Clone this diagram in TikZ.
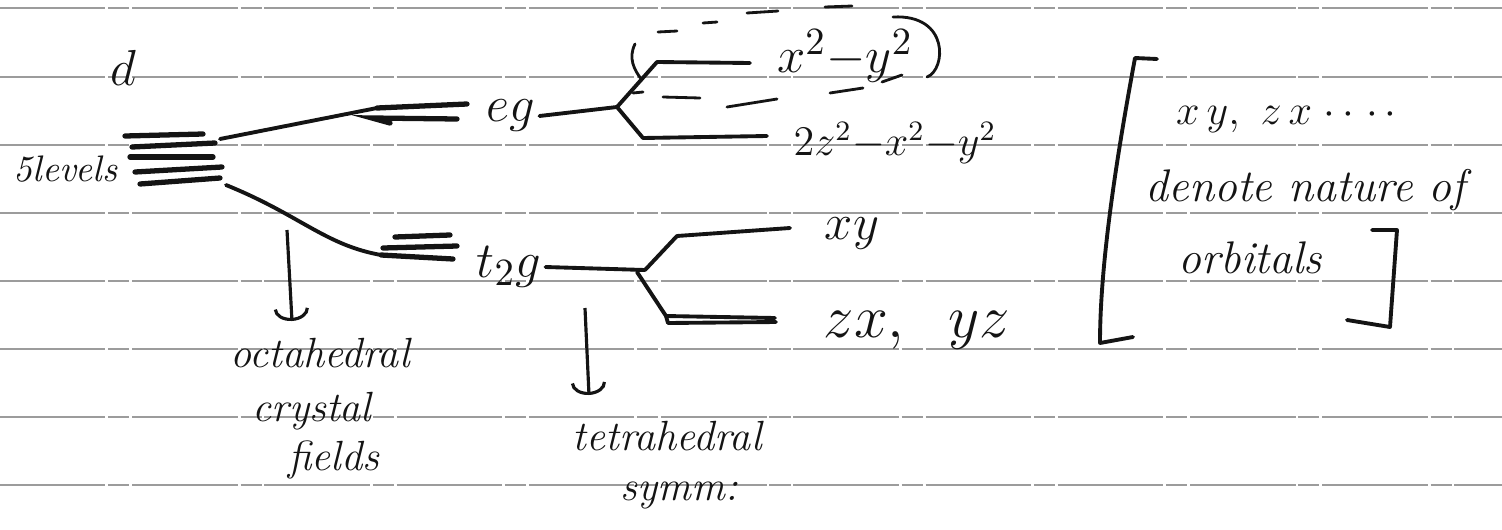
\documentclass[tikz,border=0pt]{standalone}
\usepackage{amsmath}
\usepackage{xcolor}
\usepackage{tikz}
\usetikzlibrary{arrows.meta,calc}
\definecolor{inkBlack}{HTML}{141414}
\definecolor{ruleGray}{HTML}{9C9C9C}

\begin{document}
\begin{tikzpicture}[x=0.01cm,y=-0.01cm,
  lvl/.style={inkBlack,line width=1.5pt,line cap=round},
  conn/.style={inkBlack,line width=1.1pt,line cap=round,line join=round},
  ring/.style={inkBlack,line width=0.8pt,line cap=round},
  rule/.style={ruleGray,line width=0.4pt,dash pattern=on 30pt off 0.8pt on 6pt off 0.8pt},
  pointer/.style={inkBlack,line width=0.9pt,-{Arc Barb[length=3.5pt,width=10pt]}},
  hand/.style={inkBlack,font=\itshape\fontsize{12}{14}\selectfont,inner sep=0pt},
  mth/.style={inkBlack,font=\fontsize{15}{17}\selectfont,inner sep=1pt}]
\useasboundingbox (0,0) rectangle (1502,530);
% ruled paper
\foreach \y in {8,77,145,213,281,349,417,485}
  \draw[rule] (0,\y)--(1502,\y);

% five d levels
\node[mth,anchor=base west] (dlab) at (106,85) {$d$};
\node[hand,anchor=base west,font=\itshape\fontsize{10.5}{12}\selectfont] (five) at (13,181) {5levels};
\draw[lvl] (125,136)--(203,134);
\draw[lvl] (132,147)--(215,143);
\draw[lvl] (130,157)--(213,157);
\draw[lvl] (135,172)--(222,167);
\draw[lvl] (140,184)--(220,178);
\coordinate (dTop) at (220,139);
\coordinate (dBot) at (226,185);

% eg and t2g
\coordinate (egIn) at (377,108);
\coordinate (t2In) at (381,255);
\draw[conn] (dTop)--(egIn);
\draw[conn] (dBot) .. controls (300,215) and (325,245) .. (t2In);
\draw[lvl] (egIn)--(467,104);
\draw[lvl] (390,123)--(372,118)--(457,119);
\draw[lvl] (395,237)--(450,235);
\draw[lvl] (383,248)--(457,246);
\draw[lvl] (t2In)--(453,259);
\node[mth] (eg) at (511,116) {$eg$};
\node[mth] (t2g) at (509,267) {$t_2g$};

% splitting
\coordinate (egSplit) at (617,107);
\coordinate (t2Split) at (645,270);
\draw[conn] (eg.east)--(egSplit);
\draw[conn] (egSplit)--(657,62)--(750,63);
\draw[conn] (egSplit)--(643,138)--(767,136);
\draw[conn] (t2g.east)--(t2Split);
\draw[conn] (t2Split)--(677,236)--(790,228);
\draw[conn] (637,272)--(666,316)--(775,318);
\draw[conn] (666,316)--(668,323)--(776,322);
\node[mth] (xxyy) at (845,56) {$x^2{-}y^2$};
\node[mth,font=\fontsize{12}{14}\selectfont] (zzxy) at (895,143) {$2z^2{-}x^2{-}y^2$};
\node[mth,font=\fontsize{14}{16}\selectfont] (xy) at (852,234) {$xy$};
\node[mth,font=\fontsize{16}{18}\selectfont] (zxyz) at (917,330) {$zx,\;\;yz$};

% dashed ring round x^2-y^2
\draw[ring] (635,44) .. controls (628,58) and (634,70) .. (642,80);
\draw[ring] (658,32)--(677,31);
\draw[ring] (703,23)--(717,22);
\draw[ring] (747,13)--(778,11);
\draw[ring] (825,7)--(852,6);
\draw[ring] (893,17) .. controls (950,14) and (946,70) .. (927,77);
\draw[ring] (633,93)--(643,92);
\draw[ring] (663,97)--(700,98);
\draw[ring] (727,107)--(777,99);
\draw[ring] (830,93)--(863,88);
\draw[ring] (882,82)--(902,75);

% arrows and notes below
\coordinate (octTop) at (287,230);
\coordinate (octTip) at (292,321);
\draw[pointer] (octTop)--(octTip);
\node[hand,anchor=base west] (oct1) at (230,367) {octahedral};
\node[hand,anchor=base west] (oct2) at (252,421) {crystal};
\node[hand,anchor=base west] (oct3) at (288,470) {fields};
\coordinate (tetTop) at (585,308);
\coordinate (tetTip) at (589,395);
\draw[pointer] (tetTop)--(tetTip);
\node[hand,anchor=base west] (tet1) at (572,450) {tetrahedral};
\node[hand,anchor=base west] (tet2) at (620,500) {symm:};

% bracketed remark
\draw[conn] (1157,59)--(1135,58) .. controls (1118,150) and (1100,260) .. (1100,343)--(1133,337);
\draw[conn] (1372,230)--(1397,230)--(1390,327)--(1347,320);
\node[mth,anchor=base west,font=\fontsize{12}{14}\selectfont] (orbs) at (1172,124) {$x\,y,\ z\,x\;{\cdot}\,{\cdot}\;{\cdot}\,{\cdot}$};
\node[hand,anchor=base west,font=\itshape\fontsize{13}{15}\selectfont] (note1) at (1145,201) {denote nature of};
\node[hand,anchor=base west,font=\itshape\fontsize{13}{15}\selectfont] (note2) at (1178,273) {orbitals};
\end{tikzpicture}
\end{document}
